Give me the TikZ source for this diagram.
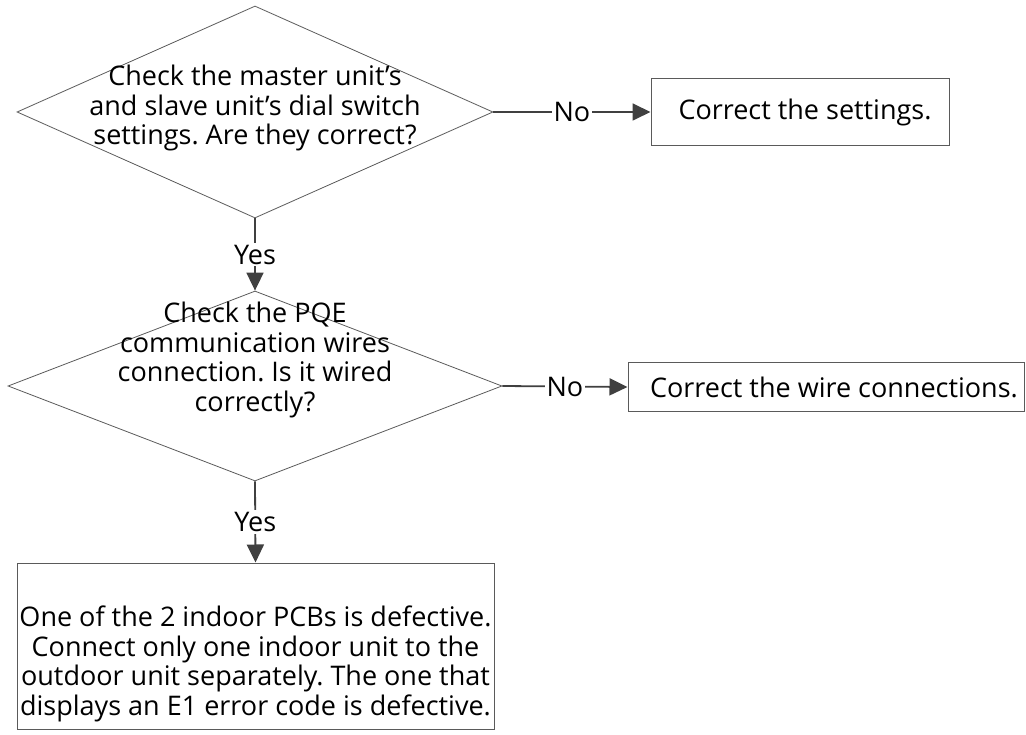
\documentclass[tikz,border=0pt]{standalone}
\usepackage{fontspec}
\setmainfont{Open Sans}
\usepackage{xcolor}
\usetikzlibrary{shapes.geometric,arrows.meta}
\frenchspacing
\definecolor{edge}{HTML}{5A5A5A}
\definecolor{flow}{HTML}{404040}
\tikzset{
  decision/.style={diamond, draw=edge, line width=0.8pt, inner sep=0pt},
  fixbox/.style={rectangle, draw=edge, line width=1pt, inner sep=0pt},
  flowline/.style={draw=flow, line width=1.8pt, -{Triangle[length=18pt,width=17pt]}},
  txt/.style={text=black, align=center, inner sep=0pt, font=\fontsize{27}{29.5}\selectfont},
  lbl/.style={text=black, fill=white, inner sep=2pt, font=\fontsize{27}{29.5}\selectfont}
}

\begin{document}
\begin{tikzpicture}[x=1pt,y=-1pt]
  \useasboundingbox (0,0) rectangle (1026,735);

  % decisions
  \node[decision, minimum width=476pt, minimum height=212pt] (q1) at (255,112) {};
  \node[txt] (q1txt) at (255,108) {Check the master unit's\\and slave unit's dial switch\\settings. Are they correct?};
  \node[decision, minimum width=494pt, minimum height=190pt] (q2) at (255,386) {};
  \node[txt] (q2txt) at (255,360) {Check the PQE\\communication wires\\connection. Is it wired\\correctly?};

  % actions
  \node[fixbox, minimum width=298pt, minimum height=67pt, txt, draw=edge] (fix1) at (800,112) {\hspace*{10pt}Correct the settings.};
  \node[fixbox, minimum width=396pt, minimum height=48pt, txt, draw=edge] (fix2) at (826,387) {\hspace*{16pt}Correct the wire connections.};
  \node[fixbox, minimum width=477pt, minimum height=166pt] (pcb) at (255.5,646) {};
  \node[txt] (pcbtxt) at (255.5,664) {One of the 2 indoor PCBs is defective.\\Connect only one indoor unit to the\\outdoor unit separately. The one that\\displays an E1 error code is defective.};

  % connectors
  \draw[flowline] (q1.east) -- node[lbl] {No} (fix1.west);
  \draw[flowline] (q2.east) -- node[lbl] {No} (fix2.west);
  \draw[flowline] (q1.south) -- node[lbl] {Yes} (q2.north);
  \draw[flowline] (q2.south) -- node[lbl] {Yes} (pcb.north);
\end{tikzpicture}
\end{document}
